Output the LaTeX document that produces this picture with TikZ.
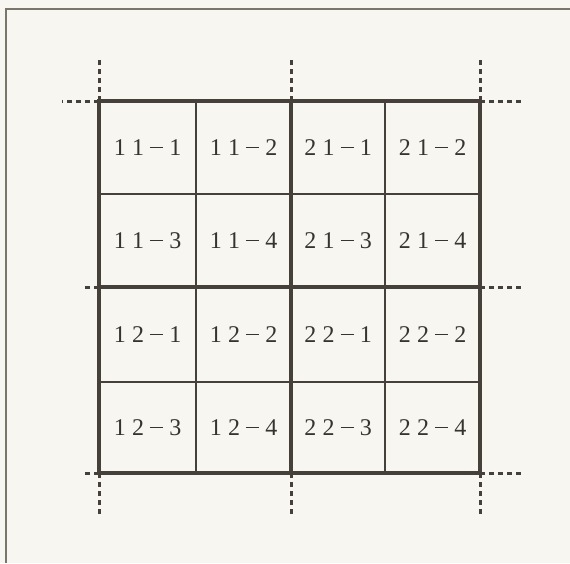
\documentclass[tikz,border=0pt]{standalone}
\usepackage{fontspec}
\newfontfamily\labfont{Liberation Serif}
\begin{document}
\definecolor{paper}{HTML}{F7F6F0}
\definecolor{ink}{HTML}{45413A}
\definecolor{txt}{HTML}{36342F}
\definecolor{framec}{HTML}{7A766C}
\newcommand{\cc}[1]{\makebox[18.5pt]{#1}}
\newcommand{\lbl}[3]{\cc{#1}\cc{#2}\cc{\rule[7.5pt]{13pt}{1.3pt}}\cc{#3}}
\begin{tikzpicture}[x=1pt,y=-1pt,
  heavy/.style={ink,line width=3.2pt},
  light/.style={ink,line width=1.6pt},
  ext/.style={ink,line width=3pt,dash pattern=on 5pt off 4pt},
  framel/.style={framec,line width=1.5pt},
  lab/.style={text=txt,inner sep=0pt,font=\labfont\fontsize{24}{26}\selectfont}]
\fill[paper] (0,0) rectangle (570,563);
\useasboundingbox (0,0) rectangle (570,563);
% page frame (top and left only)
\draw[framel] (6,563) -- (6,9) -- (570,9);
% grid corner coordinates
\coordinate (tl) at (99,101);
\coordinate (tm) at (291,101);
\coordinate (tr) at (480,101);
\coordinate (ml) at (99,287);
\coordinate (mr) at (480,287);
\coordinate (bl) at (99,473);
\coordinate (bm) at (291,473);
\coordinate (br) at (480,473);
% thin inner lines
\draw[light] (196,101) -- (196,473);
\draw[light] (385,101) -- (385,473);
\draw[light] (99,194) -- (480,194);
\draw[light] (99,382) -- (480,382);
% thick middle lines
\draw[heavy] (tm) -- (bm);
\draw[heavy] (ml) -- (mr);
% thick outer border
\draw[heavy] (tl) rectangle (br);
% dashed extensions
\draw[ext] (tl) -- (99,57);
\draw[ext] (tm) -- (291,57);
\draw[ext] (tr) -- (480,57);
\draw[ext] (bl) -- (99,517);
\draw[ext] (bm) -- (291,517);
\draw[ext] (br) -- (480,517);
\draw[ext] (tl) -- (62,101);
\draw[ext] (ml) -- (84,287);
\draw[ext] (bl) -- (84,473);
\draw[ext] (tr) -- (521,101);
\draw[ext] (mr) -- (521,287);
\draw[ext] (br) -- (521,473);
% cell labels
\node[lab] (a111) at (147.5,148) {\lbl{1}{1}{1}};
\node[lab] (a112) at (243.5,148) {\lbl{1}{1}{2}};
\node[lab] (a211) at (338,148) {\lbl{2}{1}{1}};
\node[lab] (a212) at (432.5,148) {\lbl{2}{1}{2}};
\node[lab] (a113) at (147.5,241) {\lbl{1}{1}{3}};
\node[lab] (a114) at (243.5,241) {\lbl{1}{1}{4}};
\node[lab] (a213) at (338,241) {\lbl{2}{1}{3}};
\node[lab] (a214) at (432.5,241) {\lbl{2}{1}{4}};
\node[lab] (a121) at (147.5,335) {\lbl{1}{2}{1}};
\node[lab] (a122) at (243.5,335) {\lbl{1}{2}{2}};
\node[lab] (a221) at (338,335) {\lbl{2}{2}{1}};
\node[lab] (a222) at (432.5,335) {\lbl{2}{2}{2}};
\node[lab] (a123) at (147.5,428) {\lbl{1}{2}{3}};
\node[lab] (a124) at (243.5,428) {\lbl{1}{2}{4}};
\node[lab] (a223) at (338,428) {\lbl{2}{2}{3}};
\node[lab] (a224) at (432.5,428) {\lbl{2}{2}{4}};
\end{tikzpicture}
\end{document}
